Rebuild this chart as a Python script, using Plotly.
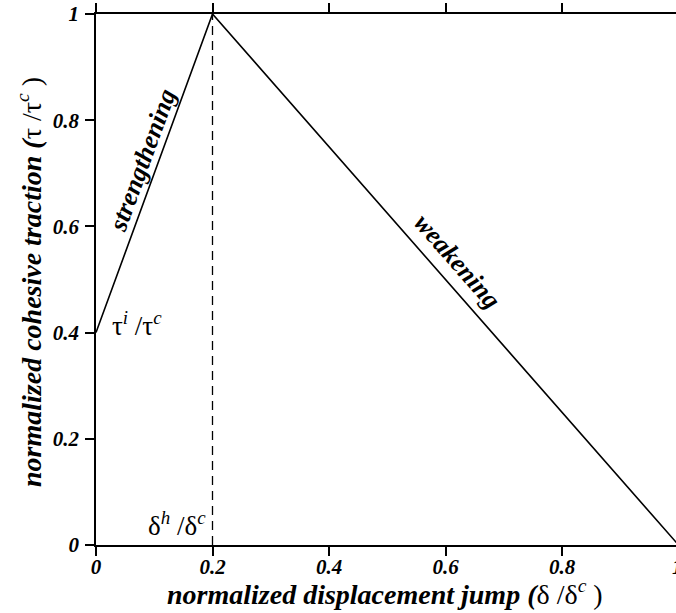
import plotly.graph_objects as go

# Data
disp = [0.0, 0.2, 1.0]          # normalized displacement jump
trac = [0.4, 1.0, 0.0]          # normalized cohesive traction
delta_h = 0.2                    # dashed marker position
x_ticks = [0, 0.2, 0.4, 0.6, 0.8]
x_tick_text = ["0", "0.2", "0.4", "0.6", "0.8"]
y_ticks = [0, 0.2, 0.4, 0.6, 0.8, 1.0]
y_tick_text = ["0", "0.2", "0.4", "0.6", "0.8", "1"]

FONT = "Liberation Serif"
W, H = 676, 613
L, R, T, B = 96, 0, 14, 68
xmax = 0.9957

fig = go.Figure()
fig.add_trace(go.Scatter(x=disp, y=trac, mode="lines",
                         line=dict(color="black", width=1.6),
                         cliponaxis=False, showlegend=False, hoverinfo="skip"))
fig.add_trace(go.Scatter(x=[delta_h, delta_h], y=[0, 1], mode="lines",
                         line=dict(color="black", width=1.3, dash="9px,6px"),
                         showlegend=False, hoverinfo="skip"))

tick_font = dict(family=FONT, size=21, color="black", weight="bold", style="italic")
axis_common = dict(showline=True, linecolor="black", linewidth=1.6, mirror="ticks",
                   ticks="outside", ticklen=9, tickwidth=1.6, tickcolor="black",
                   showgrid=False, zeroline=False, automargin=False,
                   tickfont=tick_font)

fig.update_layout(
    width=W, height=H,
    margin=dict(l=L, r=R, t=T, b=B),
    plot_bgcolor="white", paper_bgcolor="white",
    xaxis=dict(range=[0, xmax], tickvals=x_ticks, ticktext=x_tick_text,
               ticklabelstandoff=-7, **axis_common),
    yaxis=dict(range=[0, 1], tickvals=y_ticks, ticktext=y_tick_text,
               ticklabelstandoff=2, **axis_common),
)

g = "<span style='font-style:normal;font-weight:normal'>"
si = "<sup><span style='font-style:italic'>"
se = "</span></sup>"
title_font = dict(family=FONT, size=28, color="black", weight="bold", style="italic")
plot_w = W - L - R
plot_h = H - T - B
# axis titles
fig.add_annotation(x=(385 - L) / plot_w, y=(H - B - 592) / plot_h, xref="paper", yref="paper",
                   text="normalized displacement jump (" + g + "δ /δ" + si + "c" + se + " )</span>",
                   showarrow=False, font=title_font, xanchor="center", yanchor="middle")
fig.add_annotation(x=(30 - L) / plot_w, y=(H - B - 282) / plot_h, xref="paper", yref="paper",
                   text="normalized cohesive traction (" + g + "τ /τ" + si + "c" + se + " )</span>",
                   showarrow=False, font=title_font, textangle=-90,
                   xanchor="center", yanchor="middle")

ann_font_it = dict(family=FONT, size=26, color="black", weight="bold", style="italic")
ann_font_up = dict(family=FONT, size=27, color="black")
fig.add_annotation(x=1.0 / xmax, y=0, xref="paper", yref="paper", yshift=-8, xshift=6,
                   text="1", showarrow=False, yanchor="top", font=tick_font)
fig.add_annotation(x=0.079, y=0.725, text="strengthening", textangle=-69.9,
                   showarrow=False, font=ann_font_it)
fig.add_annotation(x=0.62, y=0.533, text="weakening", textangle=48.7,
                   showarrow=False, font=ann_font_it)
fig.add_annotation(x=0.024, y=0.38, text="τ" + si + "i" + se + " /τ" + si + "c" + se,
                   xanchor="left", yanchor="bottom", showarrow=False, font=ann_font_up)
fig.add_annotation(x=0.192, y=0.004, text="δ" + si + "h" + se + " /δ" + si + "c" + se,
                   xanchor="right", yanchor="bottom", showarrow=False, font=ann_font_up)

fig.write_html("out.html")
